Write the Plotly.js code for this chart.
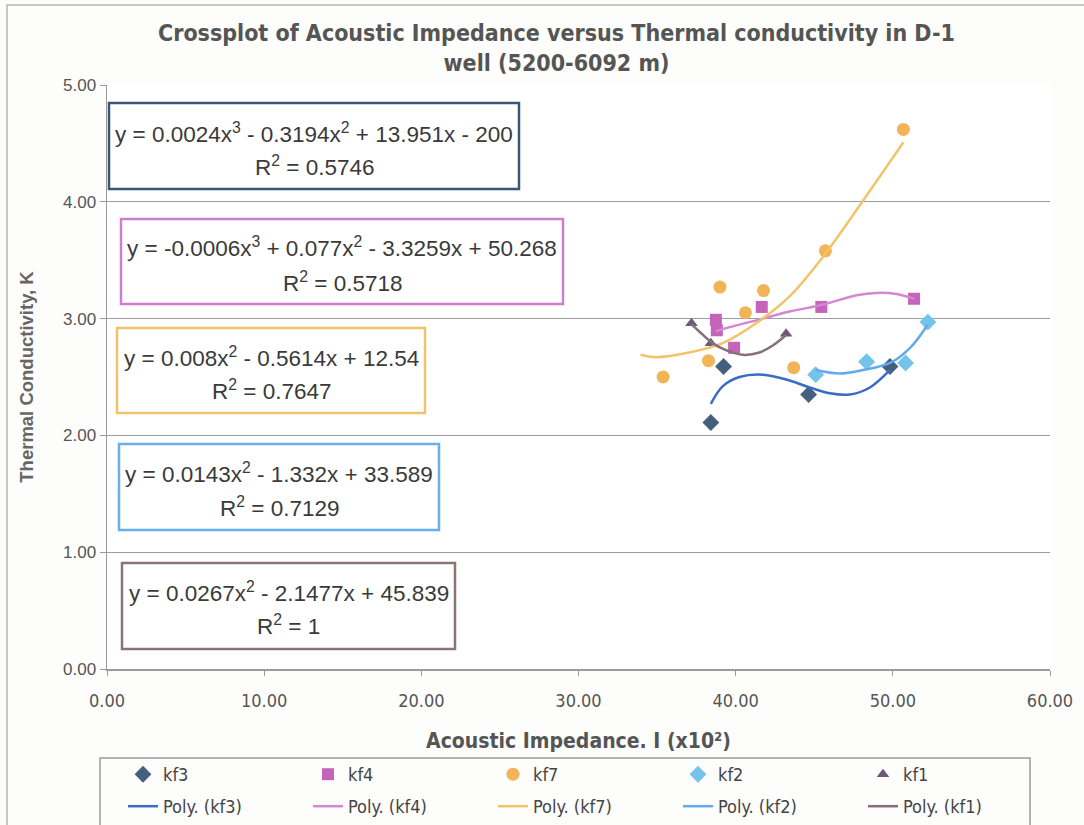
<!DOCTYPE html>
<html>
<head>
<meta charset="utf-8">
<script src="https://cdn.plot.ly/plotly-3.0.1.min.js"></script>
<style>
  html, body { margin: 0; padding: 0; background: #fdfdfb; }
  #chart { width: 1084px; height: 825px; }
</style>
</head>
<body>
<div id="chart"></div>
<script>
// ---------- data ----------
const kf3X = [38.42, 39.23, 44.64, 49.82];
const kf3Y = [2.11, 2.59, 2.35, 2.59];

const kf4X = [38.74, 38.80, 39.90, 41.66, 45.45, 51.35];
const kf4Y = [2.99, 2.90, 2.75, 3.10, 3.10, 3.17];

const kf7X = [35.38, 38.27, 39.00, 40.62, 41.77, 43.69, 45.71, 50.67];
const kf7Y = [2.50, 2.64, 3.27, 3.05, 3.24, 2.58, 3.58, 4.62];

const kf2X = [45.09, 48.33, 50.81, 52.23];
const kf2Y = [2.52, 2.63, 2.62, 2.97];

const kf1X = [37.19, 38.42, 43.21];
const kf1Y = [2.96, 2.79, 2.87];

// trendline curves
const poly3X = [38.42, 39.17, 40.24, 41.73, 43.43, 44.71, 45.99, 47.26, 48.54, 49.82];
const poly3Y = [2.27, 2.42, 2.50, 2.52, 2.47, 2.41, 2.36, 2.35, 2.41, 2.56];

const poly4X = [38.74, 39.17, 41.73, 43.43, 45.56, 47.69, 48.96, 50.24, 51.35];
const poly4Y = [2.89, 2.91, 3.00, 3.06, 3.12, 3.20, 3.22, 3.21, 3.17];

const poly7X = [33.95, 34.90, 37.04, 39.17, 41.30, 43.43, 45.56, 47.69, 49.60, 50.67];
const poly7Y = [2.69, 2.67, 2.71, 2.79, 2.96, 3.19, 3.53, 3.93, 4.30, 4.51];

const poly2X = [45.09, 46.63, 48.11, 49.82, 51.10, 52.23];
const poly2Y = [2.56, 2.53, 2.56, 2.62, 2.75, 2.95];

const poly1X = [37.19, 37.68, 38.53, 39.38, 40.45, 41.51, 42.36, 43.21];
const poly1Y = [2.95, 2.89, 2.79, 2.73, 2.69, 2.71, 2.77, 2.86];

const seriesNames = ['kf3', 'kf4', 'kf7', 'kf2', 'kf1'];
const polyNames = ['Poly. (kf3)', 'Poly. (kf4)', 'Poly. (kf7)', 'Poly. (kf2)', 'Poly. (kf1)'];

const equations = [
  'y = 0.0024x<sup>3</sup> - 0.3194x<sup>2</sup> + 13.951x - 200',
  'y = -0.0006x<sup>3</sup> + 0.077x<sup>2</sup> - 3.3259x + 50.268',
  'y = 0.008x<sup>2</sup> - 0.5614x + 12.54',
  'y = 0.0143x<sup>2</sup> - 1.332x + 33.589',
  'y = 0.0267x<sup>2</sup> - 2.1477x + 45.839'
];
const rSquared = ['R<sup>2</sup> = 0.5746', 'R<sup>2</sup> = 0.5718', 'R<sup>2</sup> = 0.7647',
                  'R<sup>2</sup> = 0.7129', 'R<sup>2</sup> = 1'];

const xTitle = 'Acoustic Impedance. I (x10²)';
const yTitle = 'Thermal Conductivity, K';
const chartTitle = 'Crossplot of Acoustic Impedance versus Thermal conductivity in D-1<br>well (5200-6092 m)';

// ---------- styling ----------
const NARROW = '"Liberation Sans Narrow", "Arial Narrow", "DejaVu Sans Condensed", sans-serif';
const ARIAL = '"Liberation Sans", Arial, sans-serif';

const markerColors = ['#45607f', '#c564b8', '#f2b457', '#74c4ea', '#6d5a78'];
const lineColors = ['#3b6bc8', '#d686d2', '#f1c46a', '#63aaea', '#86707c'];
const symbols = ['diamond', 'square', 'circle', 'diamond', 'triangle-up'];
const sizes = [13, 12, 13, 13, 11];
const boxColors = ['#3d5670', '#cc7fcc', '#f0c26a', '#6aaeea', '#8c7474'];

const ptsX = [kf3X, kf4X, kf7X, kf2X, kf1X];
const ptsY = [kf3Y, kf4Y, kf7Y, kf2Y, kf1Y];
const lnX = [poly3X, poly4X, poly7X, poly2X, poly1X];
const lnY = [poly3Y, poly4Y, poly7Y, poly2Y, poly1Y];

// plot area in pixels
const L = 107, T = 85, R = 1050, B = 669;
const PW = R - L, PH = B - T;
const px = v => (v - L) / PW;
const py = v => (B - v) / PH;

const traces = [];
for (let i = 0; i < 5; i++) {
  traces.push({
    type: 'scatter', mode: 'markers', name: seriesNames[i],
    x: ptsX[i], y: ptsY[i],
    marker: { symbol: symbols[i], size: sizes[i], color: markerColors[i], line: { width: 0 } },
    legend: 'legend', hoverinfo: 'x+y'
  });
}
for (let i = 0; i < 5; i++) {
  traces.push({
    type: 'scatter', mode: 'lines', name: polyNames[i],
    x: lnX[i], y: lnY[i],
    line: { color: lineColors[i], width: 2.5, shape: 'spline', smoothing: 1 },
    legend: 'legend2', hoverinfo: 'x+y'
  });
}

// equation boxes [x0, y0, x1, y1, line1 y, line2 y]
const boxes = [
  [109, 103, 519, 189, 133, 166],
  [121, 219, 563, 304, 247, 282],
  [117, 328, 425, 413, 357, 390],
  [119, 444, 439, 530, 473, 507],
  [122, 563, 455, 649, 592, 625]
];

const shapes = [];
const annotations = [];
boxes.forEach((b, i) => {
  shapes.push({
    type: 'rect', xref: 'paper', yref: 'paper',
    x0: px(b[0]), x1: px(b[2]), y0: py(b[3]), y1: py(b[1]),
    line: { color: boxColors[i], width: 2.5 }, fillcolor: '#ffffff', layer: 'above'
  });
  const cx = px((b[0] + b[2]) / 2);
  annotations.push({
    xref: 'paper', yref: 'paper', x: cx, y: py(b[4]), xanchor: 'center', yanchor: 'middle',
    text: equations[i], showarrow: false, font: { family: ARIAL, size: 22.5, color: '#3a3a3a' }
  });
  annotations.push({
    xref: 'paper', yref: 'paper', x: cx, y: py(b[5]), xanchor: 'center', yanchor: 'middle',
    text: rSquared[i], showarrow: false, font: { family: ARIAL, size: 22.5, color: '#3a3a3a' }
  });
});

// chart title (two lines, one text)
annotations.push({
  xref: 'paper', yref: 'paper', x: px(556), y: py(48), xanchor: 'center', yanchor: 'middle',
  text: chartTitle, showarrow: false,
  font: { family: NARROW, size: 23, color: '#555555', weight: 'bold' }
});

// legend frame
shapes.push({
  type: 'rect', xref: 'paper', yref: 'paper',
  x0: px(100), x1: px(1030), y0: py(835), y1: py(758),
  line: { color: '#9a9a9a', width: 1.5 }, fillcolor: 'rgba(0,0,0,0)', layer: 'below'
});
// outer chart frame
shapes.push({
  type: 'rect', xref: 'paper', yref: 'paper',
  x0: px(7), x1: px(1095), y0: py(840), y1: py(5),
  line: { color: '#b5b5b5', width: 1.5 }, fillcolor: 'rgba(0,0,0,0)', layer: 'below'
});

const layout = {
  width: 1084, height: 825,
  margin: { l: L, r: 1084 - R, t: T, b: 825 - B, autoexpand: false },
  paper_bgcolor: '#fdfdfb',
  plot_bgcolor: '#ffffff',
  xaxis: {
    range: [0, 60], dtick: 10, tickformat: '.2f', showgrid: false, zeroline: false,
    showline: true, linecolor: '#9a9aa4', linewidth: 1.5,
    ticks: 'outside', ticklen: 5, tickcolor: '#9a9aa4',
    ticklabelstandoff: 10,
    tickfont: { family: NARROW, size: 18, color: '#555555' },
    title: { text: xTitle, standoff: 23, font: { family: NARROW, size: 21, color: '#555555', weight: 'bold' } },
    automargin: false,
    fixedrange: true
  },
  yaxis: {
    range: [0, 5], dtick: 1, tickformat: '.2f', showgrid: true, gridcolor: '#9a9aa8', gridwidth: 1.2,
    zeroline: false, showline: true, linecolor: '#9a9aa4', linewidth: 1.5,
    ticks: 'outside', ticklen: 6, tickcolor: '#9a9aa4',
    tickfont: { family: ARIAL, size: 17, color: '#555555' },
    title: { text: yTitle, standoff: 24, font: { family: ARIAL, size: 18.5, color: '#666666', weight: 'bold' } },
    automargin: false,
    fixedrange: true
  },
  showlegend: true,
  legend: {
    orientation: 'h', x: px(123), xanchor: 'left', y: py(756), yanchor: 'top',
    entrywidth: 140, bgcolor: 'rgba(0,0,0,0)', borderwidth: 0,
    font: { family: NARROW, size: 18, color: '#444444' }
  },
  legend2: {
    orientation: 'h', x: px(123), xanchor: 'left', y: py(788), yanchor: 'top',
    entrywidth: 140, bgcolor: 'rgba(0,0,0,0)', borderwidth: 0,
    font: { family: NARROW, size: 18, color: '#444444' }
  },
  shapes: shapes,
  annotations: annotations
};

Plotly.newPlot('chart', traces, layout, { displayModeBar: false, staticPlot: true });
</script>
</body>
</html>
